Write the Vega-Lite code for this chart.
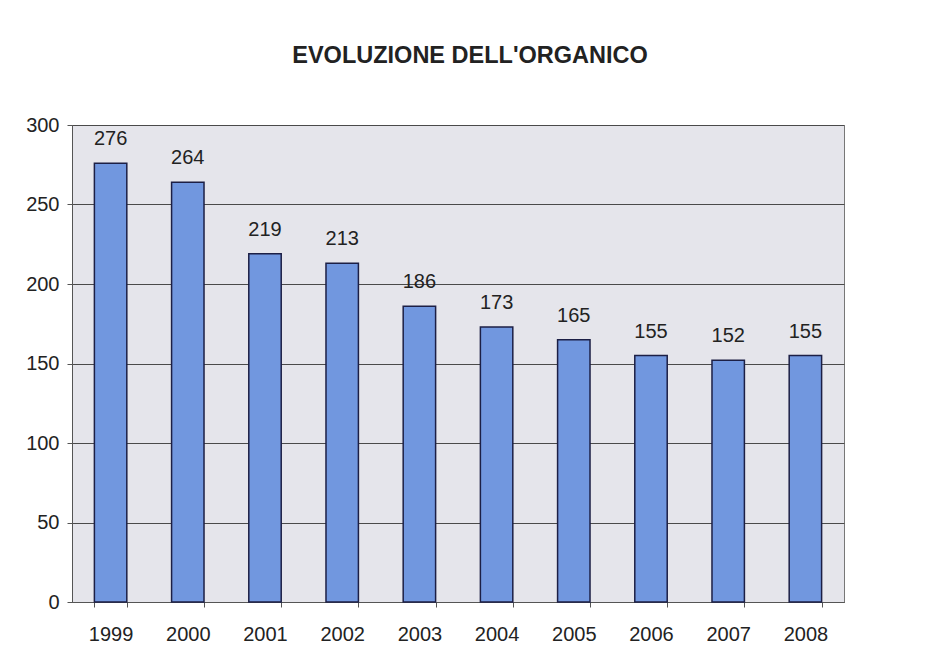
{
  "$schema": "https://vega.github.io/schema/vega-lite/v6.json",
  "width": 772,
  "height": 477,
  "autosize": {"type": "none"},
  "padding": {"left": 72, "top": 125, "right": 96, "bottom": 61},
  "background": "#ffffff",
  "title": {
    "text": "EVOLUZIONE DELL'ORGANICO",
    "font": "Liberation Sans",
    "fontSize": 23.5,
    "fontWeight": "bold",
    "color": "#222222",
    "anchor": "middle",
    "dx": 12,
    "offset": 48
  },
  "data": {
    "values": [
      {"anno": "1999", "organico": 276},
      {"anno": "2000", "organico": 264},
      {"anno": "2001", "organico": 219},
      {"anno": "2002", "organico": 213},
      {"anno": "2003", "organico": 186},
      {"anno": "2004", "organico": 173},
      {"anno": "2005", "organico": 165},
      {"anno": "2006", "organico": 155},
      {"anno": "2007", "organico": 152},
      {"anno": "2008", "organico": 155}
    ]
  },
  "encoding": {
    "x": {
      "field": "anno",
      "type": "nominal",
      "sort": null,
      "scale": {"paddingInner": 0.58, "paddingOuter": 0.29},
      "axis": {
        "title": null,
        "labelAngle": 0,
        "labelFont": "Liberation Sans",
        "labelFontSize": 20,
        "labelColor": "#222222",
        "labelPadding": 17,
        "tickBand": "extent",
        "tickSize": 5,
        "tickColor": "#555555",
        "domainColor": "#555555",
        "grid": false
      }
    },
    "y": {
      "field": "organico",
      "type": "quantitative",
      "scale": {"domain": [0, 300], "nice": false},
      "axis": {
        "title": null,
        "values": [0, 50, 100, 150, 200, 250, 300],
        "labelFont": "Liberation Sans",
        "labelFontSize": 20,
        "labelColor": "#222222",
        "labelPadding": 8,
        "tickSize": 5,
        "tickColor": "#555555",
        "domainColor": "#555555",
        "grid": true,
        "gridColor": "#4a4a4a",
        "gridWidth": 1
      }
    }
  },
  "layer": [
    {
      "mark": {"type": "bar", "color": "#7197df", "stroke": "#1c1f45", "strokeWidth": 1.5}
    },
    {
      "mark": {
        "type": "text",
        "baseline": "alphabetic",
        "dy": -18,
        "font": "Liberation Sans",
        "fontSize": 20,
        "color": "#222222"
      },
      "encoding": {"text": {"field": "organico", "type": "quantitative"}}
    }
  ],
  "config": {
    "view": {"fill": "#e5e5eb", "stroke": "#777777", "strokeWidth": 1}
  }
}
